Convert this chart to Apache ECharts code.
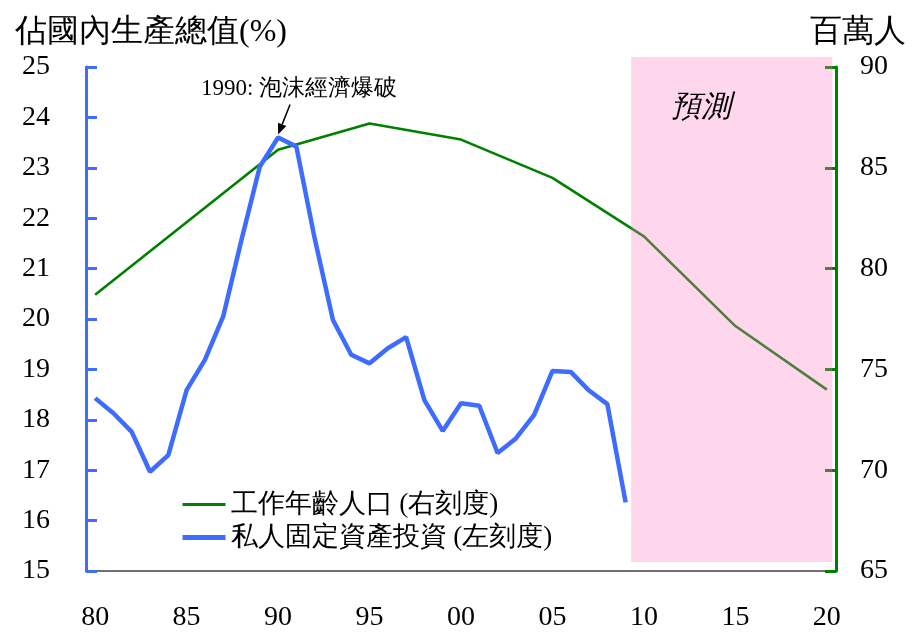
<!DOCTYPE html>
<html>
<head>
<meta charset="utf-8">
<script src="https://cdn.jsdelivr.net/npm/echarts@6/dist/echarts.min.js"></script>
<style>
  html, body { margin: 0; padding: 0; background: #fff; }
  #main { width: 916px; height: 635px; }
</style>
</head>
<body>
<div id="main"></div>
<script>
// categories: one per year, 1980-2020
const years = [
  "1980", "1981", "1982", "1983", "1984", "1985", "1986", "1987", "1988", "1989",
  "1990", "1991", "1992", "1993", "1994", "1995", "1996", "1997", "1998", "1999",
  "2000", "2001", "2002", "2003", "2004", "2005", "2006", "2007", "2008", "2009",
  "2010", "2011", "2012", "2013", "2014", "2015", "2016", "2017", "2018", "2019",
  "2020"
];

// 私人固定資產投資 (% of GDP, left scale)
const invYears = years.slice(0, 30);
const invValues = [
  18.43, 18.13, 17.76, 16.97, 17.30, 18.59, 19.19, 20.05, 21.57, 23.02,
  23.60, 23.42, 21.60, 19.98, 19.29, 19.12, 19.42, 19.64, 18.39, 17.78,
  18.33, 18.28, 17.34, 17.63, 18.10, 18.97, 18.95, 18.58, 18.31, 16.36
];

// 工作年齡人口 (millions, right scale)
const popYears = ["1980", "1990", "1995", "2000", "2005", "2010", "2015", "2020"];
const popValues = [78.7, 85.9, 87.2, 86.4, 84.5, 81.6, 77.15, 74.0];

const leftTicks = { min: 15, max: 25, step: 1 };
const rightTicks = { min: 65, max: 90, step: 5 };

// forecast band and annotation, in data units
const forecastFrom = 2009.3;
const forecastTo = 2020.3;
const bubbleYear = 1990;
const bubbleValue = 23.6;

const FONT = "Liberation Serif";
const BLUE = "#3d6cff";
const GREEN = "#008000";
const POP_NAME = "工作年齡人口 (右刻度)";
const INV_NAME = "私人固定資產投資 (左刻度)";

const chart = echarts.init(document.getElementById("main"));

chart.setOption({
  animation: false,
  textStyle: { fontFamily: FONT, color: "#000" },
  title: [
    {
      text: "佔國內生產總值(%)",
      left: 10, top: 12,
      textStyle: { fontFamily: FONT, fontSize: 32, fontWeight: "normal", color: "#000" }
    },
    {
      text: "百萬人",
      right: 5, top: 12,
      textStyle: { fontFamily: FONT, fontSize: 32, fontWeight: "normal", color: "#000" }
    }
  ],
  legend: {
    orient: "vertical",
    left: 175, top: 486,
    itemWidth: 43, itemHeight: 14, itemGap: 6,
    itemStyle: { opacity: 0 },
    textStyle: { fontFamily: FONT, fontSize: 27, color: "#000" },
    data: [
      { name: POP_NAME, lineStyle: { color: GREEN, width: 3 } },
      { name: INV_NAME, lineStyle: { color: BLUE, width: 5 } }
    ]
  },
  grid: { left: 86, right: 80, top: 67, bottom: 64 },
  xAxis: [
    {
      type: "category",
      data: years,
      boundaryGap: true,
      axisLine: { lineStyle: { color: "#404040", width: 1.5 } },
      axisTick: { inside: true, length: 9, interval: 4, lineStyle: { color: "#404040", width: 1.5 } },
      axisLabel: {
        interval: 4, margin: 33, fontSize: 28, color: "#000", fontFamily: FONT,
        formatter: function (v) { return v.slice(2); }
      },
      splitLine: { show: false }
    },
    {
      // hidden helper scale for the forecast band and arrow
      type: "value",
      min: 1979.5, max: 2020.5,
      show: false
    }
  ],
  yAxis: [
    {
      type: "value",
      position: "left",
      min: leftTicks.min, max: leftTicks.max, interval: leftTicks.step,
      axisLine: { show: true, lineStyle: { color: BLUE, width: 3 } },
      axisTick: { show: true, inside: true, length: 11, lineStyle: { color: BLUE, width: 3 } },
      axisLabel: { margin: 36, fontSize: 28, color: "#000", fontFamily: FONT },
      splitLine: { show: false },
      z: 3
    },
    {
      type: "value",
      position: "right",
      min: rightTicks.min, max: rightTicks.max, interval: rightTicks.step,
      axisLine: { show: true, lineStyle: { color: GREEN, width: 3 } },
      axisTick: { show: true, inside: true, length: 11, lineStyle: { color: GREEN, width: 3 } },
      axisLabel: { margin: 24, fontSize: 28, color: "#000", fontFamily: FONT },
      splitLine: { show: false }
    }
  ],
  series: [
    {
      name: POP_NAME,
      type: "line",
      yAxisIndex: 1,
      data: popYears.map(function (y, i) { return [y, popValues[i]]; }),
      symbol: "none",
      connectNulls: true,
      lineStyle: { color: GREEN, width: 2.6 },
      itemStyle: { color: GREEN, opacity: 0 }
    },
    {
      name: INV_NAME,
      type: "line",
      yAxisIndex: 0,
      data: invYears.map(function (y, i) { return [y, invValues[i]]; }),
      symbol: "none",
      lineStyle: { color: BLUE, width: 4.5 },
      itemStyle: { color: BLUE, opacity: 0 }
    }
  ]
});

// overlays placed through the axes
function px(x, y) {
  return chart.convertToPixel({ xAxisIndex: 1, yAxisIndex: 0 }, [x, y]);
}
const bandTop = px(forecastFrom, 25.2);
const bandBottom = px(forecastTo, 15.18);
const tip = px(bubbleYear, bubbleValue);
tip[1] -= 3;
const tail = [tip[0] + 12, tip[1] - 30];
const ang = Math.atan2(tip[1] - tail[1], tip[0] - tail[0]);
const headLen = 11, headW = 4.5;
const base = [tip[0] - headLen * Math.cos(ang), tip[1] - headLen * Math.sin(ang)];
const nx = -Math.sin(ang), ny = Math.cos(ang);

chart.setOption({
  graphic: [
    {
      type: "rect",
      z: 100,
      silent: true,
      shape: {
        x: bandTop[0], y: bandTop[1],
        width: bandBottom[0] - bandTop[0], height: bandBottom[1] - bandTop[1]
      },
      style: { fill: "rgba(255, 126, 194, 0.31)" }
    },
    {
      type: "text",
      z: 101,
      left: 671, top: 93,
      style: { text: "預測", font: "italic 30px " + FONT, fill: "#000" }
    },
    {
      type: "text",
      z: 101,
      left: 201, top: 77,
      style: { text: "1990: 泡沫經濟爆破", font: "23px " + FONT, fill: "#000" }
    },
    {
      type: "line",
      z: 101,
      shape: { x1: tail[0], y1: tail[1], x2: base[0], y2: base[1] },
      style: { stroke: "#000", lineWidth: 1.5 }
    },
    {
      type: "polygon",
      z: 101,
      shape: {
        points: [
          tip,
          [base[0] + nx * headW, base[1] + ny * headW],
          [base[0] - nx * headW, base[1] - ny * headW]
        ]
      },
      style: { fill: "#000" }
    }
  ]
});
</script>
</body>
</html>
